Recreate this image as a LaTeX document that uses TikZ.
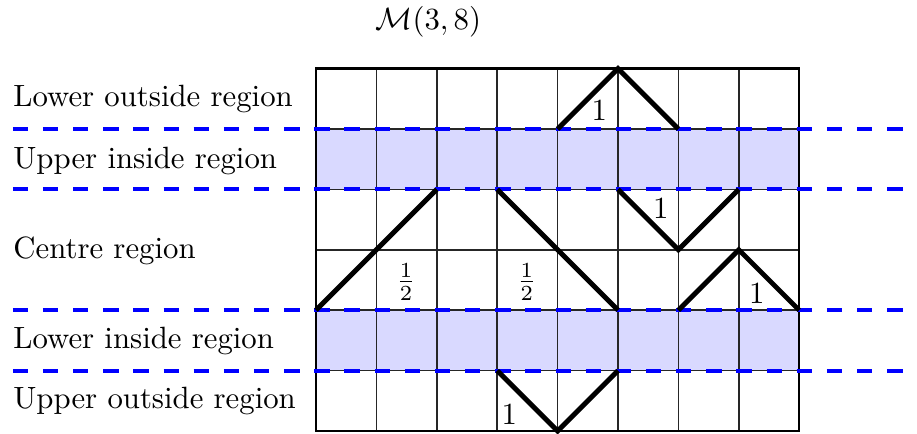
\documentclass[tikz,border=0pt]{standalone}
\usepackage{amsmath}
\begin{document}
\begin{tikzpicture}[x=0.69cm,y=0.69cm,
  regionlabel/.style={anchor=base west,inner sep=0pt},
  weight/.style={inner sep=0pt},
  pathline/.style={line width=1.6pt,line join=miter},
  gridline/.style={line width=0.5pt,black!85},
  sepline/.style={blue,line width=1.3pt,dash pattern=on 5pt off 4.8pt},
  shade/.style={fill=blue!15,draw=none}]
\clip (-5.232,-0.033) rectangle (9.950,7.136);
% shaded rows
\fill[shade] (0,4) rectangle (8,5);
\fill[shade] (0,1) rectangle (8,2);
% grid
\foreach \xx in {1,...,7}
  \draw[gridline] (\xx,0) -- (\xx,6);
\foreach \yy in {1,...,5}
  \draw[gridline] (0,\yy) -- (8,\yy);
\draw[line width=0.8pt] (0,0) rectangle (8,6);
% separator lines
\foreach \yy in {5,4,2,1}
  \draw[sepline] (-5.02,\yy) -- (10.5,\yy);
% paths
\draw[pathline] (4,5) -- (5,6) -- (6,5);
\draw[pathline] (0,2) -- (2,4);
\draw[pathline] (3,4) -- (5,2);
\draw[pathline] (5,4) -- (6,3) -- (7,4);
\draw[pathline] (6,2) -- (7,3) -- (8,2);
\draw[pathline] (3,1) -- (4,0) -- (5,1);
% weights
\node[weight] (w1) at (4.69,5.30) {$1$};
\node[weight] (w2) at (5.71,3.69) {$1$};
\node[weight] (w3) at (7.30,2.28) {$1$};
\node[weight] (w4) at (1.49,2.47) {$\frac{1}{2}$};
\node[weight] (w5) at (3.49,2.47) {$\frac{1}{2}$};
\node[weight] (w6) at (3.20,0.28) {$1$};
% title
\node[anchor=base,inner sep=0pt] (title) at (1.86,6.64) {$\mathcal{M}(3,8)$};
% region labels
\node[regionlabel] (lo) at (-5.02,5.37) {Lower outside region};
\node[regionlabel] (ui) at (-5.02,4.35) {Upper inside region};
\node[regionlabel] (ce) at (-5.02,2.86) {Centre region};
\node[regionlabel] (li) at (-5.02,1.37) {Lower inside region};
\node[regionlabel] (uo) at (-5.02,0.38) {Upper outside region};
\end{tikzpicture}
\end{document}
